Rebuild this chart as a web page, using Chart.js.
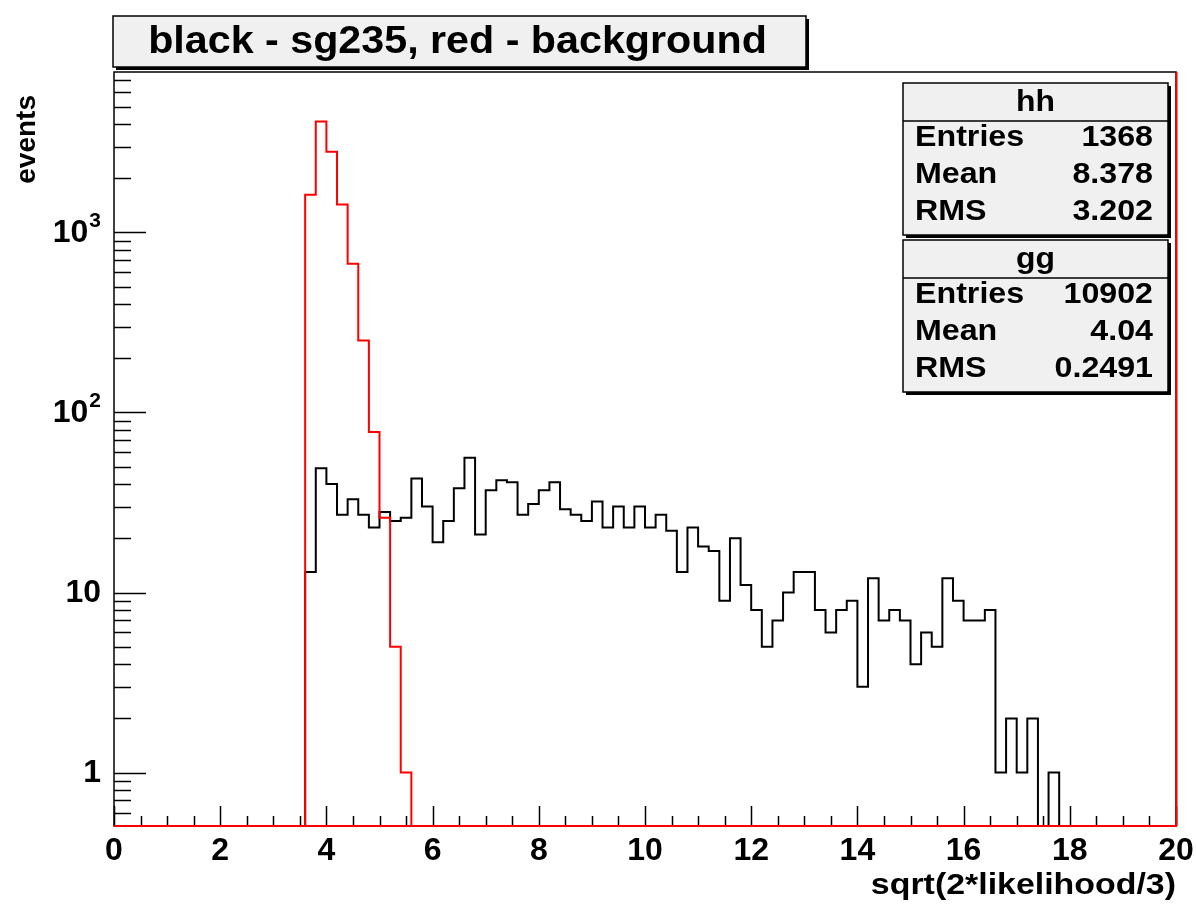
<!DOCTYPE html>
<html>
<head>
<meta charset="utf-8">
<script src="https://cdn.jsdelivr.net/npm/chart.js@4/dist/chart.umd.min.js"></script>
<style>
html,body{margin:0;padding:0;background:#ffffff;}
#wrap{width:1196px;height:906px;position:relative;}
</style>
</head>
<body>
<div id="wrap"><canvas id="c" width="1196" height="906"></canvas></div>
<script>
// ---------------- data ----------------
const chartTitle = 'black - sg235, red - background';
const xAxisTitle = 'sqrt(2*likelihood/3)';
const yAxisTitle = 'events';
const xRange = [0, 20];
const nBins = 100;
// black histogram "hh" (sg235), 100 bins of width 0.2 from 0 to 20
const signalCounts = [
  0,0,0,0,0,0,0,0,0,0,
  0,0,0,0,0,0,0,0,13,49,
  40,27,33,27,23,28,25,26,43,30,
  19,25,38,56,21,37,42,41,27,31,
  37,41,29,27,25,32,23,30,23,30,
  23,27,22,13,23,18,17,9,20,11,
  8,5,7,10,13,13,8,6,8,9,
  3,12,7,8,7,4,6,5,12,9,
  7,7,8,1,2,1,2,0,1,0,
  0,0,0,0,0,0,0,0,0,0
];
// red histogram "gg" (background)
const backgroundCounts = [
  0,0,0,0,0,0,0,0,0,0,
  0,0,0,0,0,0,0,0,1620,4130,
  2810,1430,670,251,78,26,5,1,0,0,
  0,0,0,0,0,0,0,0,0,0,
  0,0,0,0,0,0,0,0,0,0,
  0,0,0,0,0,0,0,0,0,0,
  0,0,0,0,0,0,0,0,0,0,
  0,0,0,0,0,0,0,0,0,0,
  0,0,0,0,0,0,0,0,0,0,
  0,0,0,0,0,0,0,0,0,0
];
const yRange = [0.505, 7780];
const yTickValues = [1, 10, 100, 1000];
const yTickBase = ['1', '10', '10', '10'];
const yTickExp = ['', '', '2', '3'];
const xTickStep = 2;
const statsLabels = ['Entries', 'Mean', 'RMS'];
const hhName = 'hh';
const hhValues = ['1368', '8.378', '3.202'];
const ggName = 'gg';
const ggValues = ['10902', '4.04', '0.2491'];

// ---------------- helpers ----------------
const FONT = "'Liberation Sans', Arial, Helvetica, sans-serif";
const binWidth = (xRange[1] - xRange[0]) / nBins;
function histPoints(counts) {
  const pts = [];
  for (let i = 0; i < counts.length; i++) {
    const y = counts[i] > 0 ? counts[i] : yRange[0];
    pts.push({x: xRange[0] + i * binWidth, y: y});
  }
  const last = counts[counts.length - 1];
  pts.push({x: xRange[1], y: last > 0 ? last : yRange[0]});
  return pts;
}
function wideText(ctx, text, x, y, align, sx) {
  ctx.save();
  ctx.translate(x, y);
  ctx.scale(sx, 1);
  ctx.textAlign = align;
  ctx.fillText(text, 0, 0);
  ctx.restore();
}

const decorPlugin = {
  id: 'rootDecor',
  afterDatasetsDraw(chart) {
    const ctx = chart.ctx;
    const a = chart.chartArea;
    const xs = chart.scales.x, ys = chart.scales.y;
    ctx.save();
    // frame
    ctx.strokeStyle = '#000';
    ctx.lineWidth = 1.5;
    ctx.strokeRect(a.left, a.top, a.right - a.left, a.bottom - a.top);
    // x ticks (inside, pointing up)
    ctx.beginPath();
    for (let k = 0; k <= 40; k++) {
      const v = xRange[0] + k * 0.5;
      const px = Math.round(xs.getPixelForValue(v)) + 0.5;
      const len = (k % 4 === 0) ? 20 : 10;
      ctx.moveTo(px, a.bottom);
      ctx.lineTo(px, a.bottom - len);
    }
    // y ticks (inside, pointing right)
    for (let d = -1; d <= 3; d++) {
      for (let m = 1; m <= 9; m++) {
        const v = m * Math.pow(10, d);
        if (v < yRange[0] || v > yRange[1]) continue;
        const py = Math.round(ys.getPixelForValue(v)) + 0.5;
        const len = (m === 1) ? 32 : 17;
        ctx.moveTo(a.left, py);
        ctx.lineTo(a.left + len, py);
      }
    }
    ctx.stroke();
    // red right and bottom border (drawn by the red histogram frame)
    ctx.strokeStyle = '#ff0000';
    ctx.lineWidth = 2;
    ctx.beginPath();
    ctx.moveTo(a.right + 0.5, a.top);
    ctx.lineTo(a.right + 0.5, a.bottom);
    ctx.moveTo(a.left, a.bottom);
    ctx.lineTo(a.right + 1, a.bottom);
    ctx.stroke();

    // y tick labels with exponents
    ctx.fillStyle = '#000';
    ctx.textBaseline = 'middle';
    for (let i = 0; i < yTickValues.length; i++) {
      const py = ys.getPixelForValue(yTickValues[i]);
      let right = a.left - 13;
      if (yTickExp[i]) {
        ctx.font = 'bold 21px ' + FONT;
        ctx.textAlign = 'right';
        ctx.fillText(yTickExp[i], right, py - 11);
        right -= ctx.measureText(yTickExp[i]).width + 1;
      }
      ctx.font = 'bold 32px ' + FONT;
      ctx.textAlign = 'right';
      ctx.fillText(yTickBase[i], right, py + 1);
    }

    // title box
    const tb = {x: 113, y: 16, w: 693, h: 51};
    ctx.fillStyle = '#000';
    ctx.fillRect(tb.x + 3, tb.y + 3, tb.w, tb.h);
    ctx.fillStyle = '#f0f0f0';
    ctx.fillRect(tb.x, tb.y, tb.w, tb.h);
    ctx.strokeStyle = '#000';
    ctx.lineWidth = 1.5;
    ctx.strokeRect(tb.x, tb.y, tb.w, tb.h);
    ctx.fillStyle = '#000';
    ctx.font = 'bold 38px ' + FONT;
    ctx.textBaseline = 'middle';
    wideText(ctx, chartTitle, tb.x + tb.w / 2 - 2, tb.y + tb.h / 2 + 1, 'center', 1.085);

    // stats boxes
    function statsBox(top, headBottom, bottom, name, values, rowYs) {
      const x0 = 903, x1 = 1168;
      ctx.fillStyle = '#000';
      ctx.fillRect(x0 + 3, top + 3, x1 - x0, bottom - top);
      ctx.fillStyle = '#f0f0f0';
      ctx.fillRect(x0, top, x1 - x0, bottom - top);
      ctx.strokeStyle = '#000';
      ctx.lineWidth = 1.5;
      ctx.strokeRect(x0, top, x1 - x0, bottom - top);
      ctx.beginPath();
      ctx.moveTo(x0, headBottom);
      ctx.lineTo(x1, headBottom);
      ctx.stroke();
      ctx.fillStyle = '#000';
      ctx.font = 'bold 29px ' + FONT;
      ctx.textBaseline = 'middle';
      wideText(ctx, name, (x0 + x1) / 2, (top + headBottom) / 2 + 1, 'center', 1.1);
      for (let i = 0; i < statsLabels.length; i++) {
        wideText(ctx, statsLabels[i], 915, rowYs[i], 'left', 1.11);
        wideText(ctx, values[i], 1153, rowYs[i], 'right', 1.11);
      }
    }
    statsBox(83, 121, 235, hhName, hhValues, [138, 175, 212]);
    statsBox(240, 278, 392, ggName, ggValues, [295, 332, 369]);

    // axis titles
    ctx.fillStyle = '#000';
    ctx.font = 'bold 30px ' + FONT;
    ctx.textBaseline = 'middle';
    wideText(ctx, xAxisTitle, a.right, 886, 'right', 1.13);
    ctx.save();
    ctx.translate(27, 95);
    ctx.rotate(-Math.PI / 2);
    ctx.textAlign = 'right';
    ctx.font = 'bold 28px ' + FONT;
    ctx.fillText(yAxisTitle, 0, 0);
    ctx.restore();
    ctx.restore();
  }
};

const chart = new Chart(document.getElementById('c'), {
  type: 'line',
  data: {
    datasets: [
      {
        label: 'gg (background)',
        data: histPoints(backgroundCounts),
        borderColor: '#ff0000',
        borderWidth: 2,
        stepped: true,
        pointRadius: 0,
        fill: false,
        clip: 3,
        order: 0
      },
      {
        label: 'hh (sg235)',
        data: histPoints(signalCounts),
        borderColor: '#000000',
        borderWidth: 2,
        stepped: true,
        pointRadius: 0,
        fill: false,
        clip: 3,
        order: 1
      }
    ]
  },
  options: {
    responsive: false,
    animation: false,
    devicePixelRatio: 1,
    layout: {padding: {left: 0, top: 72, right: 20, bottom: 0}},
    plugins: {legend: {display: false}, tooltip: {enabled: false}, title: {display: false}},
    scales: {
      x: {
        type: 'linear',
        min: xRange[0],
        max: xRange[1],
        grid: {display: false, drawTicks: false},
        border: {display: false},
        ticks: {
          stepSize: xTickStep,
          color: '#000',
          padding: 6,
          maxRotation: 0,
          font: {family: FONT, size: 32, weight: 'bold'}
        },
        afterFit(scale) { scale.height = 80; scale.paddingRight = 0; scale.paddingLeft = 0; }
      },
      y: {
        type: 'logarithmic',
        min: yRange[0],
        max: yRange[1],
        grid: {display: false, drawTicks: false},
        border: {display: false},
        afterBuildTicks(scale) { scale.ticks = yTickValues.map(v => ({value: v})); },
        ticks: {display: false},
        afterFit(scale) { scale.width = 114; scale.paddingTop = 0; scale.paddingBottom = 0; }
      }
    }
  },
  plugins: [decorPlugin]
});
</script>
</body>
</html>
